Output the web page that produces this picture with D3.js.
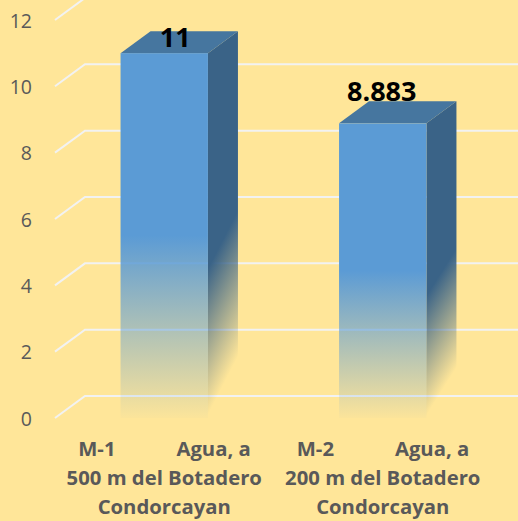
<!DOCTYPE html>
<html><head><meta charset="utf-8">
<script src="https://cdn.jsdelivr.net/npm/d3@7"></script>
<style>
html,body{margin:0;padding:0;background:#FFE699;}
svg{display:block;}
</style></head>
<body>
<svg id="chart" width="518" height="521"></svg>
<script>
const categories = ["M-1", "M-2"];
const descriptions = [["Agua, a", "500 m del Botadero", "Condorcayan"], ["Agua, a", "200 m del Botadero", "Condorcayan"]];
const values = [11, 8.883];
const valueLabels = ["11", "8.883"];
const yTicks = [0, 2, 4, 6, 8, 10, 12];

const W = 518, H = 521;
const depthX = 30, depthY = -22;
const labelMinBaseline = 47;
const svg = d3.select("#chart");
svg.append("rect").attr("width", W).attr("height", H).attr("fill", "#FFE699");

const x = d3.scaleBand().domain(categories).range([55, 492]).paddingInner(0.6).paddingOuter(0.3);
const y = d3.scaleLinear().domain([0, 12]).range([418, 418 - 12 * 33.17]);

const defs = svg.append("defs");
const gf = defs.append("linearGradient").attr("id", "gFront").attr("x1", 0).attr("y1", 0).attr("x2", 0).attr("y2", 1);
gf.append("stop").attr("offset", "0").attr("stop-color", "#5B9BD5").attr("stop-opacity", 1);
gf.append("stop").attr("offset", "0.5").attr("stop-color", "#5B9BD5").attr("stop-opacity", 1);
gf.append("stop").attr("offset", "1").attr("stop-color", "#5B9BD5").attr("stop-opacity", 0.02);
const gs = defs.append("linearGradient").attr("id", "gSide").attr("x1", 0).attr("y1", 0).attr("x2", 0.15).attr("y2", 1);
gs.append("stop").attr("offset", "0").attr("stop-color", "#3A6387").attr("stop-opacity", 1);
gs.append("stop").attr("offset", "0.6").attr("stop-color", "#3A6387").attr("stop-opacity", 1);
gs.append("stop").attr("offset", "0.97").attr("stop-color", "#3A6387").attr("stop-opacity", 0);

// gridlines (floor-to-wall perspective)
const grid = svg.append("g");
const x0 = x.range()[0], x1 = x.range()[1];
yTicks.forEach(t => {
  const yf = y(t);
  grid.append("path")
    .attr("d", `M${x0},${yf} L${x0 + depthX},${yf + depthY} L${x1 + depthX},${yf + depthY}`)
    .attr("fill", "none").attr("stroke", "#F2F2F2").attr("stroke-width", 2);
});

// y tick labels
svg.append("g").selectAll("text").data(yTicks).join("text")
  .attr("x", 32).attr("y", d => y(d) + 1).attr("dy", "0.35em")
  .attr("text-anchor", "end")
  .attr("font-family", "'Open Sans', sans-serif").attr("font-size", 19.5)
  .attr("fill", "#595959").text(d => d);

// bars
const bars = svg.append("g").selectAll("g").data(categories).join("g");
bars.each(function(c, i) {
  const g = d3.select(this);
  const l = x(c), r = x(c) + x.bandwidth();
  const top = y(values[i]), bot = y(0);
  // side face
  g.append("path")
    .attr("d", `M${r},${top} L${r + depthX},${top + depthY} L${r + depthX},${bot + depthY} L${r},${bot} Z`)
    .attr("fill", "url(#gSide)");
  // top face
  g.append("path")
    .attr("d", `M${l},${top} L${l + depthX},${top + depthY} L${r + depthX},${top + depthY} L${r},${top} Z`)
    .attr("fill", "#46769F");
  // front face
  g.append("rect").attr("x", l).attr("y", top).attr("width", r - l).attr("height", bot - top)
    .attr("fill", "url(#gFront)");
  // value label (kept inside the plot: pushed down onto the top face when needed)
  const base = top + depthY;
  const ly = Math.max(base, labelMinBaseline);
  const shift = ly - base;
  g.append("text").attr("x", l + x.bandwidth() / 2 - 1 + shift * 0.75).attr("y", ly)
    .attr("text-anchor", "middle")
    .attr("font-family", "'Open Sans', sans-serif").attr("font-weight", "bold").attr("font-size", 27)
    .attr("fill", "#000").text(valueLabels[i]);
});

// category labels
const cl = svg.append("g").attr("font-family", "'Open Sans', sans-serif").attr("font-weight", "bold")
  .attr("font-size", 20.3).attr("fill", "#595959");
categories.forEach((c, i) => {
  const cx = x(c) + x.bandwidth() / 2;
  cl.append("text").attr("x", cx - 86).attr("y", 456).attr("text-anchor", "start").text(c);
  cl.append("text").attr("x", cx + 86.5).attr("y", 456).attr("text-anchor", "end").text(descriptions[i][0]);
  cl.append("text").attr("x", cx).attr("y", 485).attr("text-anchor", "middle").text(descriptions[i][1]);
  cl.append("text").attr("x", cx).attr("y", 513.5).attr("text-anchor", "middle").text(descriptions[i][2]);
});
</script>
</body></html>
